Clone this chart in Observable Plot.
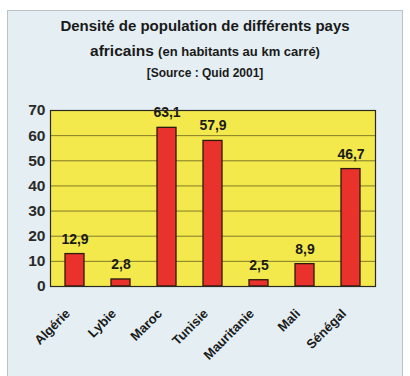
<!DOCTYPE html>
<html>
<head>
<meta charset="utf-8">
<script src="https://cdn.jsdelivr.net/npm/d3@7"></script>
<script src="https://cdn.jsdelivr.net/npm/@observablehq/plot@0.6"></script>
<style>
  body { margin: 0; background: #fff; font-family: "Liberation Sans", Arial, sans-serif; }
  #wrap { position: relative; width: 410px; height: 376px; overflow: hidden; background: #fff; }
  #panel { position: absolute; left: 7px; top: 10px; width: 396px; height: 370px; background: #e4eef3; border: 1px solid #b9c3c8; box-sizing: border-box; }
  .t { position: absolute; left: 0; width: 410px; text-align: center; font-weight: bold; color: #1a1a1a; white-space: nowrap; }
  #t1 { top: 17px; font-size: 15px; }
  #t2 { top: 42px; font-size: 15.5px; }
  #t2 span { font-size: 13px; }
  #t3 { top: 66px; font-size: 12px; }
  #chart { position: absolute; left: 0; top: 95px; }
</style>
</head>
<body>
<div id="wrap">
  <div id="panel"></div>
  <div class="t" id="t1">Densité de population de différents pays</div>
  <div class="t" id="t2">africains <span>(en habitants au km carré)</span></div>
  <div class="t" id="t3">[Source : Quid 2001]</div>
  <div id="chart"></div>
</div>
<script>
const countries = ["Algérie", "Lybie", "Maroc", "Tunisie", "Mauritanie", "Mali", "Sénégal"];
const densities = [12.9, 2.8, 63.1, 57.9, 2.5, 8.9, 46.7];
const yTicks = [0, 10, 20, 30, 40, 50, 60, 70];

const data = countries.map((c, i) => ({country: c, value: densities[i]}));
const fmt = v => v.toFixed(1).replace(".", ",");

const chart = Plot.plot({
  width: 410,
  height: 281,
  marginLeft: 50,
  marginRight: 35,
  marginTop: 15,
  marginBottom: 90,
  style: {background: "transparent", fontFamily: "Liberation Sans, Arial, sans-serif"},
  x: {domain: countries, paddingInner: 0.59, paddingOuter: 0.29, label: null},
  y: {domain: [0, 70], label: null},
  marks: [
    Plot.frame({fill: "#f4e94c"}),
    Plot.gridY(yTicks, {stroke: "#4a4518", strokeOpacity: 0.85, strokeWidth: 0.8}),
    Plot.barY(data, {x: "country", y: "value", fill: "#e8322b", stroke: "#2a1a10", strokeWidth: 1.3}),
    Plot.text(data, {x: "country", y: "value", text: d => fmt(d.value), dy: -15, fontSize: 14, fontWeight: "bold", fill: "#1a1a1a"}),
    Plot.frame({stroke: "#2a2a20", strokeWidth: 1.2}),
    Plot.axisY(yTicks, {tickSize: 0, tickPadding: 5, fontSize: 15.5, fontWeight: "bold", fill: "#2a2a2a", label: null}),
    Plot.axisX({tickSize: 0, tickPadding: 25, dx: -7, tickRotate: -45, fontSize: 13, fontWeight: "bold", fill: "#1a1a1a", label: null})
  ]
});
document.getElementById("chart").appendChild(chart);
</script>
</body>
</html>
